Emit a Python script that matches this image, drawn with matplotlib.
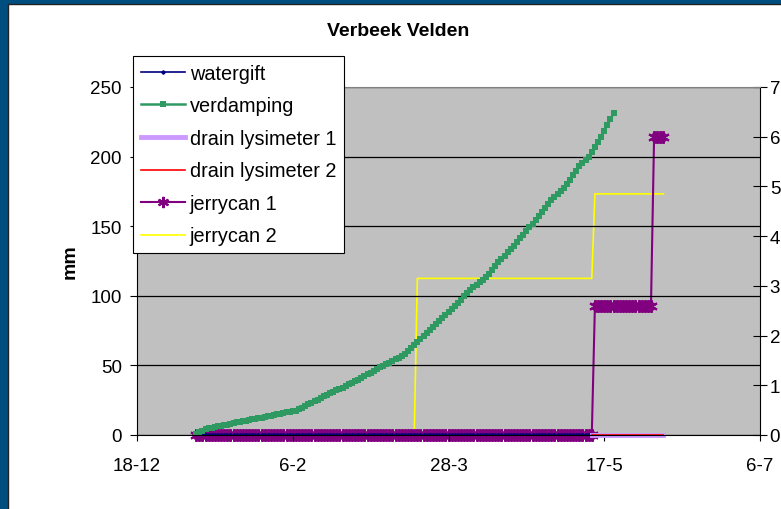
import matplotlib
matplotlib.use("Agg")
import matplotlib.pyplot as plt
from matplotlib.patches import Rectangle
import pandas as pd

plt.rcParams['font.family'] = ['Liberation Sans', 'DejaVu Sans']

# gegevens
watergift_start = '2007-01-06'
watergift = [0.0] * 128

verdamping_start = '2007-01-06'
verdamping = [
    0.5, 2.0, 3.2, 4.4, 4.8, 5.3, 5.7, 6.2, 6.6, 7.0,
    7.5, 8.0, 8.5, 9.0, 9.4, 9.9, 10.3, 10.8, 11.2, 11.7,
    12.1, 12.5, 12.9, 13.4, 13.9, 14.3, 14.8, 15.2, 15.7, 16.2,
    16.6, 17.1, 17.6, 18.5, 19.6, 20.8, 22.0, 23.2, 24.3, 25.5,
    26.7, 28.0, 29.0, 30.0, 31.0, 32.0, 33.0, 34.0, 35.0, 36.3,
    37.4, 38.5, 39.7, 41.0, 42.4, 43.6, 44.8, 46.0, 47.2, 48.5,
    49.8, 51.0, 52.0, 53.2, 54.4, 55.6, 56.8, 58.0, 60.2, 62.5,
    64.8, 67.0, 69.0, 71.1, 73.3, 75.4, 77.5, 79.6, 81.8, 84.0,
    86.2, 88.3, 90.5, 92.7, 95.0, 97.2, 99.5, 101.7, 104.0, 106.0,
    107.8, 109.7, 111.6, 113.5, 116.0, 118.7, 121.3, 124.0, 126.5, 128.9,
    131.3, 133.7, 136.1, 138.5, 141.2, 143.8, 146.5, 149.1, 151.8, 154.4,
    157.0, 160.0, 163.0, 166.0, 169.0, 171.2, 173.4, 175.6, 177.8, 180.0,
    183.3, 186.6, 189.8, 193.0, 195.3, 197.6, 200.0, 203.5, 207.0, 210.5,
    214.0, 218.5, 223.0, 227.0, 231.0,
]

drain_start = '2007-05-13'
drain1 = [0.0] * 24
drain2 = [0.0] * 24

# jerrycans op de rechter as
jerrycan_start = '2007-01-06'
jerrycan1 = [0.0] * 128 + [2.6] * 19 + [6.0] * 4
jerrycan2 = [0.0] * 71 + [3.15] * 57 + [4.85] * 23

tick_dates = ['2006-12-18', '2007-02-06', '2007-03-28', '2007-05-17', '2007-07-06']
tick_labels = ['18-12', '6-2', '28-3', '17-5', '6-7']


def dagen(start, waarden):
    return pd.date_range(start, periods=len(waarden), freq='D')


W, H = 781, 510
fig = plt.figure(figsize=(W / 100, H / 100), dpi=100, facecolor='#004E80')
fig.add_artist(Rectangle((8 / W, -0.01), 1.0, 1 - 5 / H + 0.01, transform=fig.transFigure,
                         facecolor='white', edgecolor='#222222', lw=1, zorder=-1))

ax = fig.add_axes([137 / W, 1 - 436 / H, (760 - 137) / W, (436 - 88) / H])
ax2 = ax.twinx()
ax.set_zorder(2)
ax2.set_zorder(1)
ax.patch.set_visible(False)
ax2.patch.set_visible(True)
ax2.patch.set_facecolor('#C0C0C0')

# rechter as: jerrycans
l_jc2, = ax2.plot(dagen(jerrycan_start, jerrycan2), jerrycan2, color='#FFFF00', lw=1.2,
                  label='jerrycan 2', zorder=2)
l_jc1, = ax2.plot(dagen(jerrycan_start, jerrycan1), jerrycan1, color='#800080', lw=1.5,
                  marker=(6, 2, 0), markersize=9, mew=1.5, label='jerrycan 1', zorder=3,
                  clip_on=False)

# linker as
l_wg, = ax.plot(dagen(watergift_start, watergift), watergift, color='#000080', lw=1.2,
                marker='D', markersize=2, label='watergift')
l_vd, = ax.plot(dagen(verdamping_start, verdamping), verdamping, color='#2E9A62', lw=1.8,
                marker='s', markersize=4.2, mew=0, label='verdamping')
l_d1, = ax.plot(dagen(drain_start, drain1), drain1, color='#CC99FF', lw=3.5,
                label='drain lysimeter 1', clip_on=False)
l_d2, = ax.plot(dagen(drain_start, drain2), drain2, color='#FF0000', lw=1.2,
                label='drain lysimeter 2', clip_on=False)

ax.set_xlim(pd.Timestamp(tick_dates[0]), pd.Timestamp(tick_dates[-1]))
ax.set_xticks(pd.to_datetime(tick_dates))
ax.set_xticklabels(tick_labels)
ax.set_ylim(0, 250)
ax.set_yticks(range(0, 251, 50))
ax2.set_ylim(0, 7)
ax2.set_yticks(range(0, 8))

ax.yaxis.grid(True, color='black', lw=0.9)
ax.set_axisbelow(True)

for s in ['left', 'bottom']:
    ax.spines[s].set_color('black')
ax.spines['top'].set_color('#808080')
ax.spines['right'].set_visible(False)
for s in ['left', 'bottom', 'top']:
    ax2.spines[s].set_visible(False)
ax2.spines['right'].set_color('black')

ax.tick_params(axis='y', direction='out', length=5, pad=6, labelsize=13.5, width=0.8)
ax.tick_params(axis='x', direction='out', length=4, pad=12, labelsize=13.5, width=0.8)
ax2.tick_params(axis='y', direction='inout', length=10, pad=2, labelsize=13.5, width=0.8)

fig.text(398 / W, 1 - 31 / H, 'Verbeek Velden', ha='center', va='center',
         fontsize=14, fontweight='bold')
fig.text(70 / W, 1 - 262 / H, 'mm', ha='center', va='center', rotation=90,
         fontsize=14, fontweight='bold')

handles = [l_wg, l_vd, l_d1, l_d2, l_jc1, l_jc2]
leg = fig.legend(handles, [h.get_label() for h in handles], loc='upper left',
                 bbox_to_anchor=(133 / W, 1 - 57 / H), borderaxespad=0,
                 fontsize=14.3, fancybox=False, framealpha=1, edgecolor='black',
                 handlelength=2.2, handletextpad=0.25, labelspacing=0.68,
                 borderpad=0.4, markerscale=0.9)
leg.get_frame().set_linewidth(0.8)

fig.savefig('out.png', dpi=100, facecolor=fig.get_facecolor())
